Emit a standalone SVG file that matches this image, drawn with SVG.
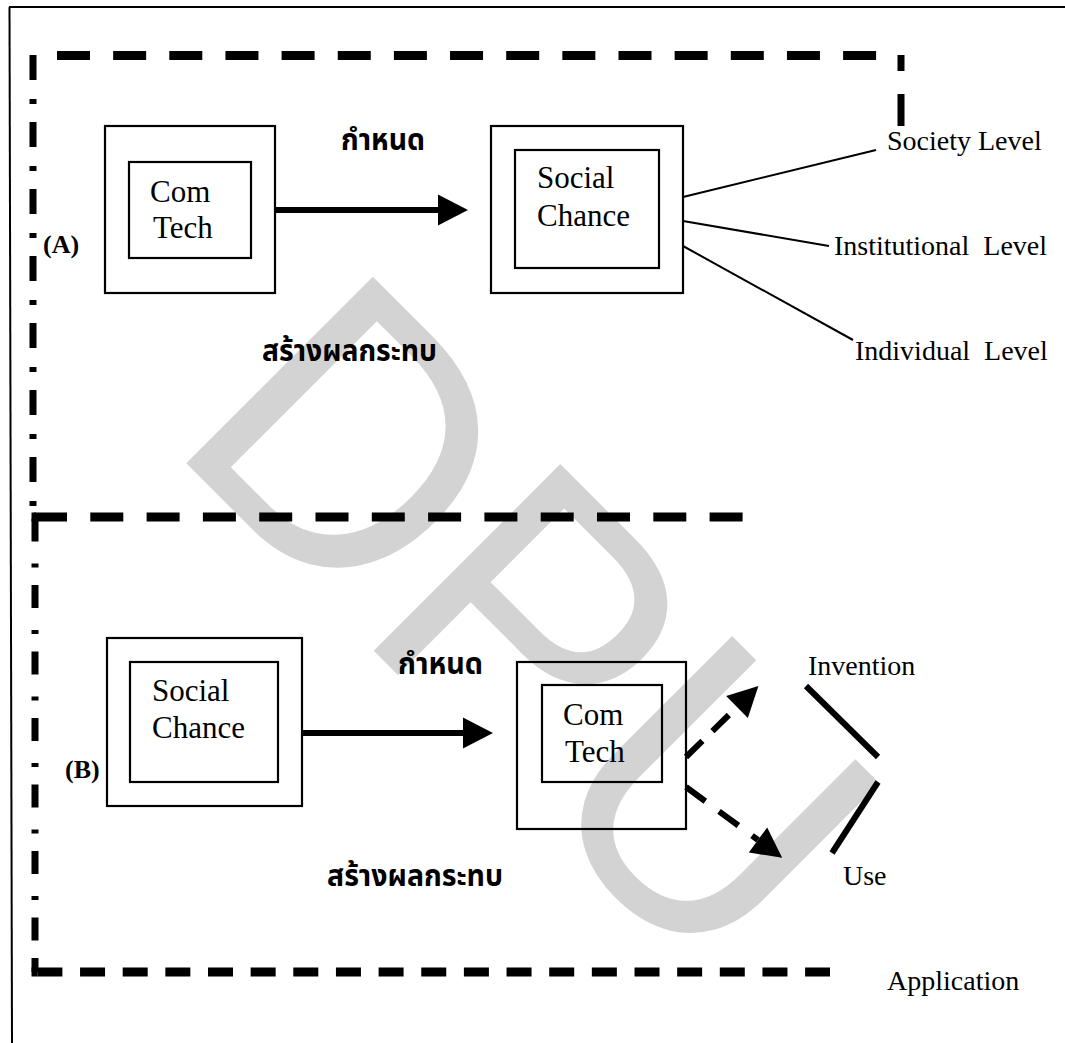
<svg xmlns="http://www.w3.org/2000/svg" width="1065" height="1043" viewBox="0 0 1065 1043">
<style>
  .wm{font-family:"Liberation Sans",Arial,sans-serif;font-size:367px;fill:#d3d3d3}
  .box{fill:none;stroke:#000;stroke-width:2.2}
  .frame{fill:none;stroke:#000;stroke-width:2}
  .dash{fill:none;stroke:#000;stroke-width:9}
  .dd{fill:none;stroke:#000;stroke-width:7}
  .lbl{font-family:"Liberation Serif","Times New Roman",serif;font-size:31px;fill:#000}
  .lvl{font-family:"Liberation Serif","Times New Roman",serif;font-size:28px;fill:#000}
  .tag{font-family:"Liberation Serif","Times New Roman",serif;font-size:26px;font-weight:bold;fill:#000}
  .thai{font-family:"Noto Sans Thai","Noto Sans Thai UI","Noto Serif Thai","Loma","Garuda","Norasi","Tlwg Typist",sans-serif;font-size:30px;font-weight:bold;fill:#000}
  .thin{fill:none;stroke:#000;stroke-width:2}
  .solid{fill:none;stroke:#000;stroke-width:6}
  .dashed{fill:none;stroke:#000;stroke-width:6}
  .bar{fill:none;stroke:#000;stroke-width:6}
</style>
<defs>
  <marker id="ah" markerUnits="userSpaceOnUse" markerWidth="30" markerHeight="31" refX="0" refY="15.5" orient="auto" overflow="visible">
    <path d="M0,0 L30,15.5 L0,31 Z" fill="#000"/>
  </marker>
</defs>
<rect width="1065" height="1043" fill="#fff"/>
<g id="watermark">
  <text class="wm" transform="translate(165,442) rotate(45) scale(1,1.045)">DPU</text>
</g>
<g id="frame">
  <path class="frame" d="M9,7 H1065"/>
  <path class="frame" d="M9.5,7 L12,1043"/>
  <path class="dash" d="M57,55.5 H876.5" stroke-dasharray="33 23.15"/>
  <path class="dd" d="M901,55 V126" stroke-width="8" stroke-dasharray="16 23 32"/>
  <path class="dd" d="M33,55 V513" stroke-dasharray="25 19 5 18"/>
  <path class="dash" d="M31.5,517 H36"/>
  <path class="dash" d="M34,517 H743" stroke-dasharray="33 23.3"/>
  <path class="dd" d="M35,518.5 V945" stroke-dasharray="23 22 4 17.5"/>
  <path class="dd" d="M35,958 V972"/>
  <path class="dash" d="M31.5,972 H37.5" stroke-width="8"/>
  <path class="dash" d="M37.4,972 H830" stroke-width="8" stroke-dasharray="25 17.65"/>
</g>
<g id="node-comtech-a">
  <rect class="box" x="105" y="126" width="170" height="167"/>
  <rect class="box" x="129" y="162" width="122" height="96"/>
  <text class="lbl" x="150" y="202">Com</text>
  <text class="lbl" x="153" y="238">Tech</text>
</g>
<g id="node-socialchance-a">
  <rect class="box" x="491" y="126" width="192" height="167"/>
  <rect class="box" x="515" y="150" width="144" height="118"/>
  <text class="lbl" x="537" y="188">Social</text>
  <text class="lbl" x="537" y="226">Chance</text>
</g>
<g id="node-socialchance-b">
  <rect class="box" x="107" y="638" width="195" height="168"/>
  <rect class="box" x="130" y="662" width="148" height="120"/>
  <text class="lbl" x="152" y="701">Social</text>
  <text class="lbl" x="152" y="738">Chance</text>
</g>
<g id="node-comtech-b">
  <rect class="box" x="517" y="662" width="169" height="167"/>
  <rect class="box" x="542" y="685" width="120" height="97"/>
  <text class="lbl" x="563" y="725">Com</text>
  <text class="lbl" x="565" y="762">Tech</text>
</g>
<g id="connectors">
  <path class="solid" d="M275,210 H438" marker-end="url(#ah)"/>
  <path class="solid" d="M302,733 H463" marker-end="url(#ah)"/>
  <path class="thin" d="M683,197 L876,150"/>
  <path class="thin" d="M683,221 L829,246"/>
  <path class="thin" d="M683,246 L853,340"/>
  <path class="dashed" d="M686,757 L737,707" stroke-dasharray="23 14" marker-end="url(#ah)"/>
  <path class="dashed" d="M686,787 L758,840" stroke-dasharray="24 17" marker-end="url(#ah)"/>
  <path class="bar" d="M806,686 L878,757"/>
  <path class="bar" d="M878,782 L832,853"/>
</g>
<g id="labels">
  <text class="tag" x="43" y="253">(A)</text>
  <text class="tag" x="65" y="778">(B)</text>
  <text class="thai" x="341" y="150" textLength="84" lengthAdjust="spacingAndGlyphs">กำหนด</text>
  <text class="thai" x="262" y="361" textLength="175" lengthAdjust="spacingAndGlyphs">สร้างผลกระทบ</text>
  <text class="thai" x="398" y="674" textLength="85" lengthAdjust="spacingAndGlyphs">กำหนด</text>
  <text class="thai" x="327" y="886" textLength="176" lengthAdjust="spacingAndGlyphs">สร้างผลกระทบ</text>
  <text class="lvl" x="887" y="150">Society Level</text>
  <text class="lvl" x="834" y="255" xml:space="preserve">Institutional  Level</text>
  <text class="lvl" x="855" y="360" xml:space="preserve">Individual  Level</text>
  <text class="lvl" x="808" y="675">Invention</text>
  <text class="lvl" x="843" y="885">Use</text>
  <text class="lvl" x="887" y="990">Application</text>
</g>
</svg>
